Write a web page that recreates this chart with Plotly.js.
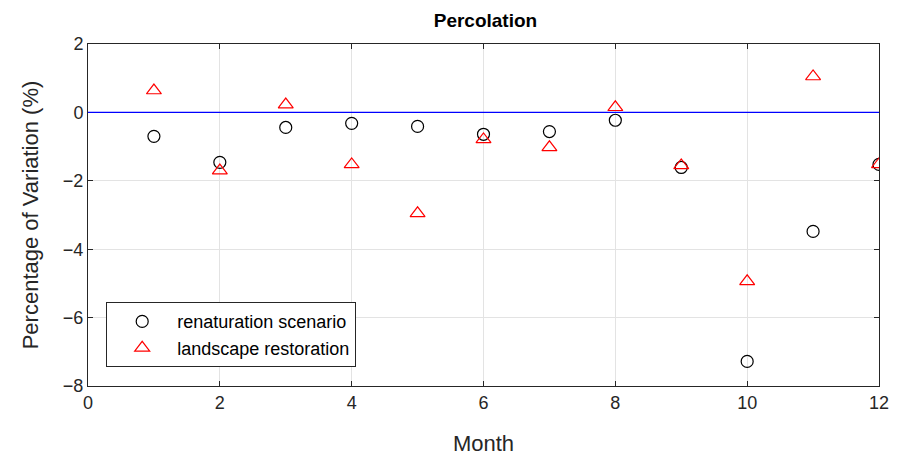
<!DOCTYPE html>
<html>
<head>
<meta charset="utf-8">
<script src="https://cdn.plot.ly/plotly-3.0.1.min.js"></script>
<style>html,body{margin:0;padding:0;background:#fff;}#chart{width:904px;height:459px;}</style>
</head>
<body>
<div id="chart"></div>
<script>
const months = [1,2,3,4,5,6,7,8,9,10,11,12];
const renaturation = [-0.70,-1.46,-0.44,-0.32,-0.41,-0.64,-0.56,-0.23,-1.61,-7.28,-3.48,-1.52];
const landscape = [0.64,-1.70,0.23,-1.52,-2.95,-0.79,-1.02,0.15,-1.55,-4.94,1.05,-1.52];
const seriesNames = ["renaturation scenario","landscape restoration"];
const xTicks = [0,2,4,6,8,10,12];
const yTicks = [-8,-6,-4,-2,0,2];

const font = "Liberation Sans, Arial, sans-serif";
const traces = [
  {x: months, y: renaturation, name: seriesNames[0], mode: "markers", type: "scatter",
   marker: {symbol: "circle-open", size: 12, color: "#000000", line: {width: 1.2}}},
  {x: months, y: landscape, name: seriesNames[1], mode: "markers", type: "scatter",
   marker: {symbol: "triangle-up-open", size: 13, color: "#ff0000", line: {width: 1.2}}}
];
const axisCommon = {
  showline: true, mirror: "ticks", linecolor: "#262626", linewidth: 1,
  ticks: "inside", ticklen: 5, tickcolor: "#262626",
  showgrid: true, gridcolor: "#e3e3e3", gridwidth: 1, zeroline: false,
  tickfont: {family: font, size: 18, color: "#262626"}
};
const layout = {
  width: 904, height: 459,
  margin: {l: 88, r: 25, t: 44, b: 73},
  paper_bgcolor: "#ffffff", plot_bgcolor: "#ffffff",
  title: {text: "<b>Percolation</b>", x: 0.537, xanchor: "center", y: 0.955, yanchor: "middle",
          font: {family: font, size: 19, color: "#000000"}},
  xaxis: Object.assign({}, axisCommon, {range: [0, 12], tickvals: xTicks,
          title: {text: "Month", font: {family: font, size: 22, color: "#262626"}, standoff: 24}}),
  yaxis: Object.assign({}, axisCommon, {range: [-8, 2], tickvals: yTicks,
          title: {text: "Percentage of Variation (%)", font: {family: font, size: 22, color: "#262626"}, standoff: 18}}),
  showlegend: true,
  legend: {x: 0.023, y: 0.055, xanchor: "left", yanchor: "bottom",
           bgcolor: "#ffffff", bordercolor: "#262626", borderwidth: 1, itemwidth: 60,
           font: {family: font, size: 18, color: "#000000"}, tracegroupgap: 0},
  shapes: [{type: "line", xref: "paper", x0: 0, x1: 1, yref: "y", y0: 0, y1: 0,
            line: {color: "#0000ff", width: 1.3}}]
};
Plotly.newPlot("chart", traces, layout, {displayModeBar: false, staticPlot: true});
</script>
</body>
</html>
